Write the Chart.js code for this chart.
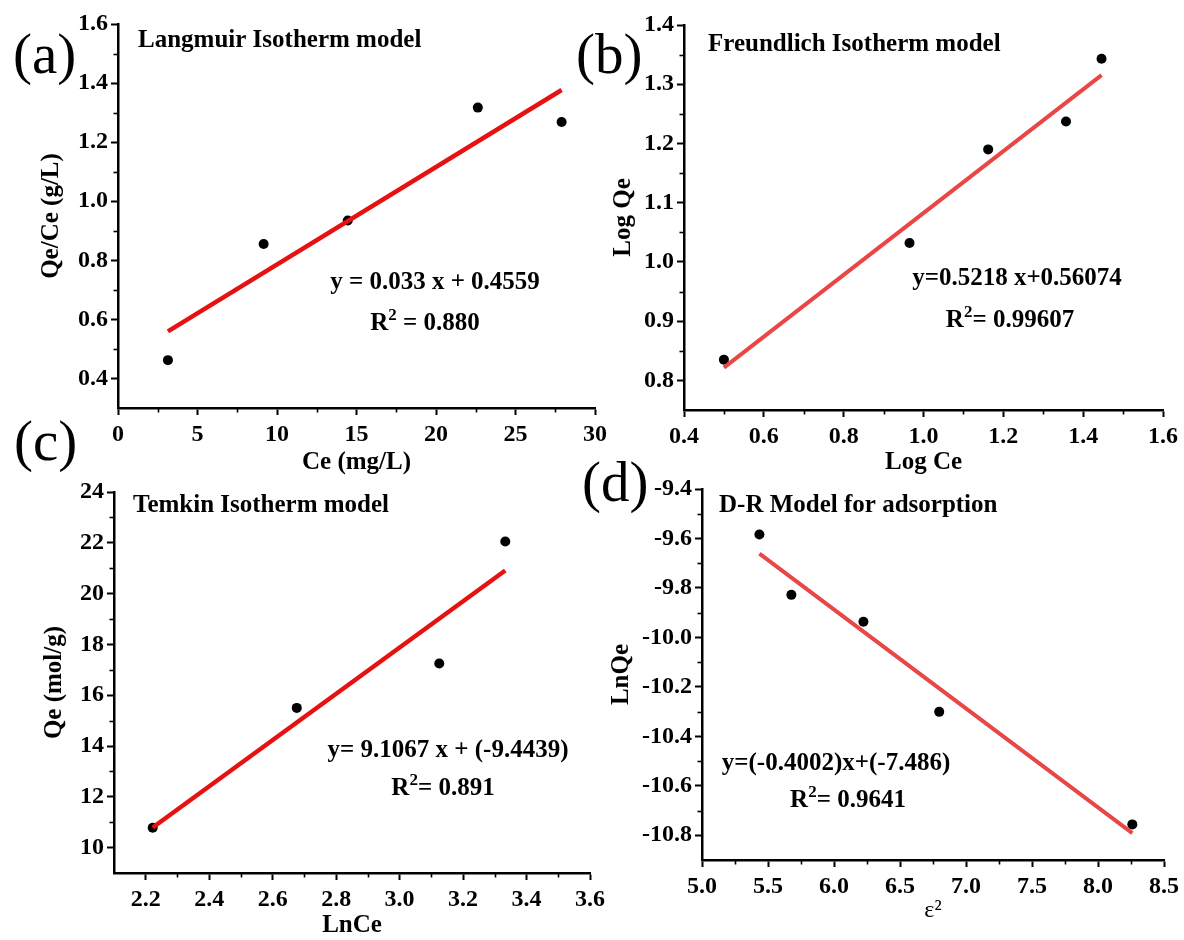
<!DOCTYPE html>
<html>
<head>
<meta charset="utf-8">
<title>Adsorption isotherm models</title>
<script src="https://cdn.jsdelivr.net/npm/chart.js@4.4.1/dist/chart.umd.min.js"></script>
<style>
  html, body { margin: 0; padding: 0; background: #fff; }
  #page { position: relative; width: 1184px; height: 940px; overflow: hidden; background: #fff; }
  #page canvas { position: absolute; left: 0; top: 0; }
  .tag {
    position: absolute;
    font-family: "Liberation Serif", "Times New Roman", serif;
    font-size: 57px;
    line-height: 57px;
    color: #000;
  }
</style>
</head>
<body>
<div id="page">
  <canvas id="chartA" width="1184" height="940"></canvas>
  <canvas id="chartB" width="1184" height="940"></canvas>
  <canvas id="chartC" width="1184" height="940"></canvas>
  <canvas id="chartD" width="1184" height="940"></canvas>
  <div class="tag" style="left:13px;top:25px">(a)</div>
  <div class="tag" style="left:576px;top:25px">(b)</div>
  <div class="tag" style="left:14px;top:412px">(c)</div>
  <div class="tag" style="left:582px;top:453px">(d)</div>
</div>
<script>
const SERIF = '"Liberation Serif", "Times New Roman", serif';

// ---- (a) Langmuir ----
const langmuirCe     = [3.14, 9.16, 14.45, 22.63, 27.90];
const langmuirQeCe   = [0.462, 0.855, 0.935, 1.317, 1.268];
const langmuirFit    = [0.033, 0.4559];          // slope, intercept
const langmuirR2     = '0.880';
const langmuirXTicks = [0, 5, 10, 15, 20, 25, 30];
const langmuirYTicks = [0.4, 0.6, 0.8, 1.0, 1.2, 1.4, 1.6];

// ---- (b) Freundlich ----
const freundlichLogCe  = [0.500, 0.965, 1.162, 1.357, 1.446];
const freundlichLogQe  = [0.835, 1.032, 1.190, 1.237, 1.343];
const freundlichFit    = [0.5218, 0.56074];
const freundlichR2     = '0.99607';
const freundlichXTicks = [0.4, 0.6, 0.8, 1.0, 1.2, 1.4, 1.6];
const freundlichYTicks = [0.8, 0.9, 1.0, 1.1, 1.2, 1.3, 1.4];

// ---- (c) Temkin ----
const temkinLnCe  = [2.222, 2.676, 3.125, 3.333];
const temkinQe    = [10.78, 15.50, 17.25, 22.05];
const temkinFit   = [9.1067, -9.4439];
const temkinR2    = '0.891';
const temkinXTicks = [2.2, 2.4, 2.6, 2.8, 3.0, 3.2, 3.4, 3.6];
const temkinYTicks = [10, 12, 14, 16, 18, 20, 22, 24];

// ---- (d) Dubinin-Radushkevich ----
const drEps2   = [5.435, 5.677, 6.223, 6.797, 8.260];
const drLnQe   = [-9.584, -9.828, -9.937, -10.301, -10.756];
const drFit    = [-0.4002, -7.486];
const drR2     = '0.9641';
const drXTicks = [5.0, 5.5, 6.0, 6.5, 7.0, 7.5, 8.0, 8.5];
const drYTicks = [-10.8, -10.6, -10.4, -10.2, -10.0, -9.8, -9.6, -9.4];

// short minor ticks halfway between the labelled ones
const minorTicks = {
  id: 'minorTicks',
  afterDraw(chart) {
    const ctx = chart.ctx;
    const area = chart.chartArea;
    ctx.save();
    ctx.strokeStyle = '#000';
    ctx.lineWidth = 1.6;
    ['x', 'y'].forEach(id => {
      const s = chart.scales[id];
      const vals = s.ticks.map(t => t.value);
      const step = vals[1] - vals[0];
      for (let k = -1; k < vals.length; k++) {
        const v = vals[0] + (k + 0.5) * step;
        if (v <= s.min + 1e-9 || v >= s.max - 1e-9) continue;
        const p = Math.round(s.getPixelForValue(v)) + 0.5;
        ctx.beginPath();
        if (id === 'x') { ctx.moveTo(p, area.bottom); ctx.lineTo(p, area.bottom + 4.5); }
        else { ctx.moveTo(area.left, p); ctx.lineTo(area.left - 4.5, p); }
        ctx.stroke();
      }
    });
    ctx.restore();
  }
};

// model name and fitted equation inside each plot
function drawRich(ctx, parts, cx, y) {
  const fontFor = p => p.sup ? `bold 17px ${SERIF}` : `bold 25px ${SERIF}`;
  let w = 0;
  parts.forEach(p => { ctx.font = fontFor(p); w += ctx.measureText(p.t).width; });
  let x = cx - w / 2;
  parts.forEach(p => {
    ctx.font = fontFor(p);
    ctx.fillText(p.t, x, p.sup ? y - 10 : y);
    x += ctx.measureText(p.t).width;
  });
}

const panelText = {
  id: 'panelText',
  afterDraw(chart, args, o) {
    const ctx = chart.ctx;
    ctx.save();
    ctx.fillStyle = '#000';
    ctx.textAlign = 'left';
    ctx.textBaseline = 'alphabetic';
    ctx.font = `bold 25px ${SERIF}`;
    ctx.fillText(o.title, o.titleX, o.titleY);
    o.lines.forEach(l => drawRich(ctx, l.parts, l.x, l.y));
    ctx.restore();
  }
};

function fitLine(xs, fit) {
  const x0 = Math.min(...xs), x1 = Math.max(...xs);
  return [x0, x1].map(x => ({ x, y: fit[0] * x + fit[1] }));
}

function axis(min, max, ticks, dec, title, titleFont, pad, afterFit) {
  return {
    type: 'linear',
    min, max,
    afterBuildTicks: s => { s.ticks = ticks.map(v => ({ value: v })); },
    afterFit: s => {
      afterFit(s);
      s.paddingLeft = s.paddingRight = s.paddingTop = s.paddingBottom = 0;
    },
    ticks: {
      autoSkip: false,
      maxRotation: 0,
      padding: pad,
      color: '#000',
      font: { family: SERIF, size: 24, weight: 'bold' },
      callback: v => Number(v).toFixed(dec)
    },
    grid: { drawOnChartArea: false, drawTicks: true, tickLength: 7, tickWidth: 2, tickColor: '#000' },
    border: { display: true, color: '#000', width: 2.5 },
    title: { display: true, text: title, color: '#000', font: titleFont, padding: 0 }
  };
}

function panel(id, p) {
  const bold = { family: SERIF, size: 25, weight: 'bold' };
  new Chart(document.getElementById(id), {
    type: 'scatter',
    data: {
      datasets: [
        {
          data: fitLine(p.xs, p.fit),
          showLine: true,
          borderColor: p.lineColor,
          borderWidth: p.lineWidth,
          pointRadius: 0
        },
        {
          data: p.xs.map((x, i) => ({ x, y: p.ys[i] })),
          pointRadius: 5,
          backgroundColor: '#000',
          borderColor: '#000',
          borderWidth: 0
        }
      ]
    },
    options: {
      responsive: false,
      animation: false,
      events: [],
      layout: {
        padding: {
          left: p.yTitleX - 15,
          top: p.box.top,
          right: 1184 - p.box.right,
          bottom: 940 - (p.xTitleY + 15)
        }
      },
      plugins: {
        legend: { display: false },
        tooltip: { enabled: false },
        panelText: p.text
      },
      scales: {
        x: axis(p.xRange[0], p.xRange[1], p.xTicks, p.xDec, p.xTitle, p.xTitleFont || bold, 5,
                s => { s.height = p.xTitleY + 15 - p.box.bottom; }),
        y: axis(p.yRange[0], p.yRange[1], p.yTicks, p.yDec, p.yTitle, bold, 3,
                s => { s.width = p.box.left - (p.yTitleX - 15); })
      }
    },
    plugins: [minorTicks, panelText]
  });
}

const r2 = v => [{ t: 'R' }, { t: '2', sup: true }, { t: v }];

panel('chartA', {
  xs: langmuirCe, ys: langmuirQeCe, fit: langmuirFit,
  lineColor: '#e61212', lineWidth: 4.5,
  box: { left: 118, top: 24, right: 595, bottom: 408 },
  xRange: [0, 30], yRange: [0.3, 1.6],
  xTicks: langmuirXTicks, yTicks: langmuirYTicks, xDec: 0, yDec: 1,
  xTitle: 'Ce (mg/L)', yTitle: 'Qe/Ce (g/L)', xTitleY: 463, yTitleX: 52,
  text: {
    title: 'Langmuir Isotherm model', titleX: 138, titleY: 47,
    lines: [
      { parts: [{ t: `y = ${langmuirFit[0]} x + ${langmuirFit[1]}` }], x: 435, y: 289 },
      { parts: r2(' = ' + langmuirR2), x: 425, y: 330 }
    ]
  }
});

panel('chartB', {
  xs: freundlichLogCe, ys: freundlichLogQe, fit: freundlichFit,
  lineColor: '#ea4646', lineWidth: 4,
  box: { left: 684, top: 25, right: 1163, bottom: 410 },
  xRange: [0.4, 1.6], yRange: [0.75, 1.4],
  xTicks: freundlichXTicks, yTicks: freundlichYTicks, xDec: 1, yDec: 1,
  xTitle: 'Log Ce', yTitle: 'Log Qe', xTitleY: 463, yTitleX: 624,
  text: {
    title: 'Freundlich Isotherm model', titleX: 708, titleY: 51,
    lines: [
      { parts: [{ t: `y=${freundlichFit[0]} x+${freundlichFit[1]}` }], x: 1017, y: 285 },
      { parts: r2('= ' + freundlichR2), x: 1010, y: 327 }
    ]
  }
});

panel('chartC', {
  xs: temkinLnCe, ys: temkinQe, fit: temkinFit,
  lineColor: '#e61212', lineWidth: 4.5,
  box: { left: 114, top: 492, right: 590, bottom: 873 },
  xRange: [2.1, 3.6], yRange: [9, 24],
  xTicks: temkinXTicks, yTicks: temkinYTicks, xDec: 1, yDec: 0,
  xTitle: 'LnCe', yTitle: 'Qe (mol/g)', xTitleY: 926, yTitleX: 55,
  text: {
    title: 'Temkin Isotherm model', titleX: 133, titleY: 512,
    lines: [
      { parts: [{ t: `y= ${temkinFit[0]} x + (${temkinFit[1]})` }], x: 448, y: 757 },
      { parts: r2('= ' + temkinR2), x: 443, y: 795 }
    ]
  }
});

panel('chartD', {
  xs: drEps2, ys: drLnQe, fit: drFit,
  lineColor: '#ea4646', lineWidth: 4,
  box: { left: 702, top: 489, right: 1164, bottom: 860 },
  xRange: [5, 8.5], yRange: [-10.9, -9.4],
  xTicks: drXTicks, yTicks: drYTicks, xDec: 1, yDec: 1,
  xTitle: 'ε²', xTitleFont: { family: SERIF, size: 24, weight: 'normal' },
  yTitle: 'LnQe', xTitleY: 910, yTitleX: 622,
  text: {
    title: 'D-R Model for adsorption', titleX: 719, titleY: 512,
    lines: [
      { parts: [{ t: `y=(${drFit[0]})x+(${drFit[1]})` }], x: 836, y: 770 },
      { parts: r2('= ' + drR2), x: 848, y: 807 }
    ]
  }
});
</script>
</body>
</html>
